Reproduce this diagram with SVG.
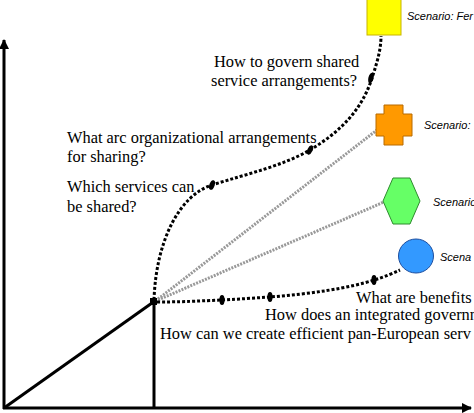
<svg xmlns="http://www.w3.org/2000/svg" width="474" height="413" viewBox="0 0 474 413">
<style>
.serif{font-family:"Liberation Serif","Times New Roman",serif;font-size:16.4px;fill:#000}
.scn{font-family:"Liberation Sans",Arial,sans-serif;font-size:11px;font-style:italic;fill:#000}
.axis{stroke:#000;stroke-width:3;fill:none}
.path{stroke:#000;stroke-width:3;stroke-dasharray:3 2;fill:none}
.gray{stroke:#999;stroke-width:3;stroke-dasharray:2 1.2;fill:none}
.mk{fill:#000}
</style>
<defs>
<marker id="arr" viewBox="0 0 10 10" refX="9" refY="5" markerWidth="3.5" markerHeight="3.5" orient="auto" markerUnits="strokeWidth">
<path d="M0,0 L10,5 L0,10 z" fill="#000"/>
</marker>
</defs>
<rect width="474" height="413" fill="#fff"/>
<g id="connectors">
<line class="axis" x1="4" y1="409" x2="4" y2="40" marker-end="url(#arr)"/>
<line class="axis" x1="3" y1="408" x2="471" y2="408" marker-end="url(#arr)"/>
<line class="axis" x1="4" y1="408" x2="152" y2="303"/>
<line class="axis" x1="154" y1="408" x2="154" y2="304"/>
<line class="gray" x1="158" y1="299" x2="377" y2="130"/>
<line class="gray" x1="158" y1="300" x2="384" y2="202"/>
<path class="path" d="M154,300 C156,240 180,195 212,185 C250,173 282,166 310,150 C340,132 362,110 372,78 C378,60 381,48 381,36"/>
<path class="path" d="M157,302 C190,302 215,300 222,300 C240,299 255,298 270,297 C310,294 350,288 374,280 C385,277 393,273 400,270"/>
<ellipse class="mk" cx="212" cy="185" rx="2.6" ry="5" transform="rotate(20 212 185)"/>
<ellipse class="mk" cx="310" cy="150" rx="2.6" ry="5" transform="rotate(25 310 150)"/>
<ellipse class="mk" cx="371" cy="78" rx="2.6" ry="5.5" transform="rotate(15 371 78)"/>
<ellipse class="mk" cx="222" cy="300" rx="2.6" ry="5"/>
<ellipse class="mk" cx="270" cy="297" rx="2.6" ry="5"/>
<ellipse class="mk" cx="374" cy="280" rx="2.6" ry="5"/>
</g>
<g id="origin-node"><rect x="150" y="298" width="7" height="7" fill="#000"/></g>
<g id="scenario-yellow">
<rect x="367" y="-1" width="34" height="36" fill="#ffff00" stroke="#c8b400" stroke-width="1"/>
<text class="scn" x="407" y="20">Scenario: Fer</text>
</g>
<g id="scenario-orange">
<path d="M384,105 H403 V114 H412 V136 H403 V145 H384 V136 H376 V114 H384 Z" fill="#ff9900" stroke="#b86a00" stroke-width="1"/>
<text class="scn" x="424" y="129">Scenario:</text>
</g>
<g id="scenario-green">
<path d="M383,201 L393,178 L410,178 L420,201 L410,224 L393,224 Z" fill="#66ff66" stroke="#2e8b2e" stroke-width="1"/>
<text class="scn" x="433" y="206">Scenario</text>
</g>
<g id="scenario-blue">
<ellipse cx="416" cy="256" rx="17.5" ry="17" fill="#3399ff" stroke="#1f4f9f" stroke-width="1"/>
<text class="scn" x="440" y="261">Scena</text>
</g>
<g id="labels">
<text class="serif" x="214" y="67">How to govern shared</text>
<text class="serif" x="211" y="86">service arrangements?</text>
<text class="serif" x="67" y="143">What arc organizational arrangements</text>
<text class="serif" x="67" y="162">for sharing?</text>
<text class="serif" x="67" y="192">Which services can</text>
<text class="serif" x="67" y="212">be shared?</text>
<text class="serif" x="356" y="303">What are benefits</text>
<text class="serif" x="265" y="320">How does an integrated governm</text>
<text class="serif" x="160" y="339">How can we create efficient pan-European serv</text>
</g>
</svg>
